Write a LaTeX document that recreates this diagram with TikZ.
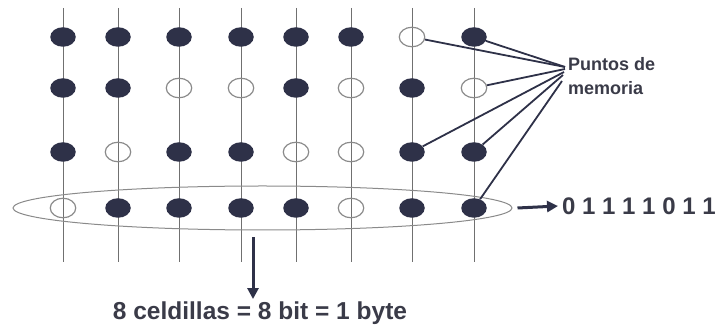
\documentclass[tikz,border=0pt]{standalone}
\usepackage{fontspec}
\setmainfont{Liberation Sans}
\usetikzlibrary{arrows.meta,shapes.geometric}
\definecolor{dotc}{HTML}{2E3148}
\definecolor{txtc}{HTML}{3A3B48}
\definecolor{wirec}{HTML}{707070}
\definecolor{ringc}{HTML}{8A8A8A}
\begin{document}
\begin{tikzpicture}[x=1pt,y=-1pt,
  bitnode/.style={ellipse, minimum width=25.5pt, minimum height=19.5pt, inner sep=0pt},
  b1/.style={bitnode, fill=dotc},
  b0/.style={bitnode, draw=ringc, line width=1.2pt},
  wireline/.style={draw=wirec, line width=0.9pt},
  leadline/.style={draw=dotc, line width=1.8pt},
  arrline/.style={draw=dotc, line width=3pt, -{Triangle[length=11pt,width=11pt]}},
  lbl/.style={text=txtc, inner sep=0pt}]
\useasboundingbox (0,0) rectangle (718,328);
% vertical wires
\foreach \x [count=\c] in {63,118,179,241,296,351,412,474}{
  \coordinate (t\c) at (\x,8);
  \coordinate (w\c) at (\x,262);
  \draw[wireline] (t\c) -- (w\c);
}
% byte ellipse
\node[ellipse, draw=ringc, line width=1pt, minimum width=499pt, minimum height=44pt, inner sep=0pt] (byte) at (262.5,208) {};
% memory points
\foreach \r/\y/\pat in {1/37/{1,1,1,1,1,1,0,1}, 2/88/{1,1,0,0,1,0,1,0}, 3/152/{1,0,1,1,0,0,1,1}, 4/208/{0,1,1,1,1,0,1,1}}{
  \foreach \v [count=\c] in \pat {
    \pgfmathsetmacro\xx{{63,118,179,241,296,351,412,474}[\c-1]}
    \node[b\v] (d-\r-\c) at (\xx,\y) {};
  }
}
% label Puntos de memoria
\node[lbl, anchor=base west, align=left, font=\fontsize{18}{23.5}\selectfont\bfseries] (pm) at (568,94.5) {Puntos de\\memoria};
\coordinate (c1) at (565,67);
\coordinate (c2) at (565,69);
\coordinate (c3) at (564,72);
\coordinate (c4) at (563,75);
\coordinate (c5) at (562,81);
\draw[leadline] (d-1-7) -- (c1);
\draw[leadline] (d-1-8) -- (c1);
\draw[leadline] (d-2-8) -- (c2);
\draw[leadline] (d-3-7) -- (c3);
\draw[leadline] (d-3-8) -- (c4);
\draw[leadline] (d-4-8) -- (c5);
% bits
\node[lbl, anchor=west, font=\fontsize{24}{28}\selectfont\bfseries] (bits) at (562,206) {0 1 1 1 1 0 1 1};
\coordinate (r0) at ([xshift=5pt]byte.east);
\draw[arrline] (r0) -- ([xshift=-4pt]bits.west);
% equation
\node[lbl, anchor=base, inner sep=3pt, font=\fontsize{24.5}{28}\selectfont\bfseries] (eq) at (260,320) {8 celdillas = 8 bit = 1 byte};
\coordinate (a0) at ([xshift=-9.5pt,yshift=-7pt]byte.south);
\draw[arrline] (a0) -- (a0 |- eq.north);
\end{tikzpicture}
\end{document}
